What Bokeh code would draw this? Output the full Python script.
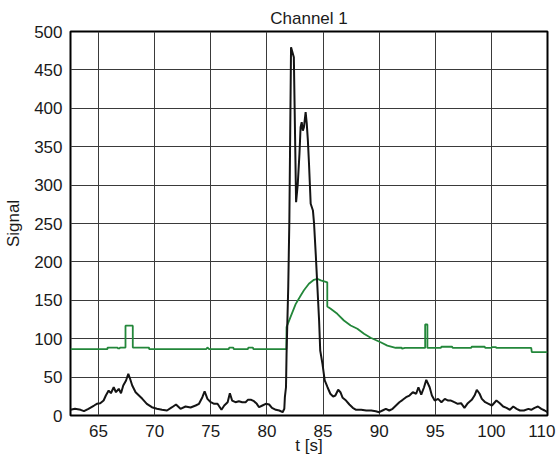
from bokeh.plotting import figure
from bokeh.models import FixedTicker, Range1d
from bokeh.embed import file_html
from bokeh.resources import INLINE

# Black trace (signal)
black_t = [62.5, 62.9, 63.4, 63.7, 64.1, 64.6, 64.85, 65.15, 65.45, 65.65, 65.9, 66.1, 66.35, 66.55, 66.8,
           67.0, 67.2, 67.45, 67.65, 67.8, 68.0, 68.3, 68.6, 68.9, 69.3, 69.75, 70.2, 70.65, 71.1, 71.55,
           71.9, 72.3, 72.75, 73.2, 73.65, 73.95, 74.25, 74.45, 74.7, 75.0, 75.3, 75.6, 75.95, 76.2, 76.5,
           76.7, 76.9, 77.2, 77.5, 77.8, 78.1, 78.3, 78.6, 78.85, 79.1, 79.3, 79.6, 79.9, 80.2, 80.45,
           80.8, 81.1, 81.4, 81.55, 81.6, 81.7, 81.75, 81.9, 82.0, 82.15, 82.4, 82.6, 82.75, 82.9, 83.0,
           83.1, 83.2, 83.3, 83.45, 83.55, 83.65, 83.75, 83.9, 84.1, 84.2, 84.35, 84.5, 84.65, 84.75, 84.95,
           85.15, 85.4, 85.65, 85.9, 86.1, 86.35, 86.55, 86.75, 87.05, 87.35, 87.65, 87.95, 88.4, 88.85, 89.3,
           89.7, 90.0, 90.3, 90.6, 90.9, 91.2, 91.5, 91.8, 92.1, 92.4, 92.7, 93.0, 93.3, 93.5, 93.75,
           94.0, 94.2, 94.5, 94.7, 94.95, 95.25, 95.55, 95.85, 96.15, 96.4, 96.7, 97.0, 97.3, 97.6, 97.9,
           98.25, 98.5, 98.7, 98.95, 99.15, 99.45, 99.75, 100.05, 100.45, 100.75, 101.05, 101.35, 101.65, 101.95, 102.25,
           102.55, 102.9, 103.3, 103.55, 103.85, 104.15, 104.45, 104.75, 105.0]
black_v = [7.4, 8.7, 7.4, 5.6, 8.7, 13, 15.2, 16, 19.5, 26, 32.5, 29, 36.8, 30.3, 34.8,
           29, 39, 45.6, 54.3, 48.2, 39, 30.3, 26, 21.7, 15.2, 10.8, 8.7, 7.4, 6.5, 10.8,
           14.3, 8.7, 11.7, 10.4, 13, 15.2, 23.8, 31.6, 21.7, 17.3, 15.2, 15.2, 7.4, 13, 17.3,
           29, 19.5, 17.3, 18.6, 17.3, 17.3, 20.4, 20.4, 18.6, 15.2, 10.8, 13, 15.2, 14.3, 10,
           7.4, 6.5, 4.3, 8.7, 23.8, 36.8, 80, 167, 254, 479.6, 466.5, 277.7, 301.7, 340.8, 375.4,
           382, 371, 375.4, 395, 380, 358, 327.7, 275.7, 267, 250, 210.5, 167, 123.7, 84.6, 67.3,
           45.6, 36.8, 28.3, 24.7, 26, 33.5, 30.3, 23, 19.5, 14.3, 10, 7.4, 7.4, 6.5, 6.5,
           5.6, 4.3, 6.5, 8.7, 6.5, 8.7, 13, 17.3, 20.4, 23.8, 26, 30.3, 28.3, 36.8, 27.3,
           36.8, 46.5, 36.8, 26, 19.5, 21.7, 17.3, 21.7, 19.5, 19.5, 17.3, 15.2, 16, 10, 16,
           20.4, 26, 33.5, 28.3, 21.7, 17.3, 15.2, 13, 19.5, 16, 11.7, 10, 7.4, 11.7, 8.7,
           6.5, 6.5, 8.7, 7.4, 10, 11.7, 8.7, 6.5, 4.3]

# Green trace (stepped reference signal)
green_t = [62.5, 65.8, 65.8, 66.7, 66.7, 66.9, 66.9, 67.4, 67.4, 68.05, 68.05, 69.5, 69.5,
           74.6, 74.7, 74.85, 76.6, 76.65, 77.0, 77.05, 78.3, 78.35, 78.75, 78.8,
           81.73, 81.75, 82.1, 82.56, 83.0, 83.3, 83.74, 84.19, 84.49, 84.8, 85.32, 85.38, 85.38,
           85.68, 86.27, 86.86, 87.46, 88.06, 88.65, 89.24, 90.13, 90.73, 91.47, 92.0, 92.05, 92.3,
           94.1, 94.1, 94.3, 94.3, 95.5, 95.55, 96.5, 96.55, 98.2, 98.25, 99.4, 99.45,
           100.0, 100.05, 100.4, 100.45, 103.55, 103.6, 105.0]
green_v = [86.5, 86.5, 88.5, 88.5, 87.5, 87.5, 88.5, 88.5, 117, 117, 88.5, 88.5, 86.5,
           86.5, 88.5, 86.5, 86.5, 88.5, 88.5, 86.5, 86.5, 88.5, 88.5, 86.5,
           86.5, 115, 128, 145, 156, 163, 171.5, 176.7, 178, 176, 173.6, 173.6, 142,
           139, 132.4, 123.7, 117.2, 113, 106.4, 101.2, 95.4, 91, 88.2, 88.2, 87, 88,
           88, 118.5, 118.5, 88, 88, 89.5, 89.5, 88, 88, 89.5, 89.5, 88,
           88, 89, 89, 88, 88, 82.5, 82.5]

x_ticks = [65, 70, 75, 80, 85, 90, 95, 100, 105]
x_label_ticks = [65, 70, 75, 80, 85, 90, 95, 100, 104.5]
x_labels = {104.5: "110"}
y_ticks = [0, 50, 100, 150, 200, 250, 300, 350, 400, 450, 500]

FONT = "Liberation Sans"
FS = "17px"

p = figure(width=557, height=459, output_backend="svg", toolbar_location=None,
           x_range=Range1d(62.5, 105), y_range=Range1d(0, 500),
           min_border_left=70, min_border_right=10, min_border_top=31, min_border_bottom=44,
           title="Channel 1")
p.title.align = "center"
p.title.text_font = FONT
p.title.text_font_size = FS
p.title.text_font_style = "normal"
p.title.text_color = "#1a1a1a"
p.title.standoff = 7
p.title.offset = 0

p.outline_line_color = "black"
p.outline_line_width = 2
p.outline_line_alpha = 1

p.xaxis.ticker = FixedTicker(ticks=x_label_ticks)
p.xaxis.major_label_overrides = x_labels
p.yaxis.ticker = FixedTicker(ticks=y_ticks)
p.xgrid.ticker = FixedTicker(ticks=x_ticks)
p.ygrid.ticker = FixedTicker(ticks=y_ticks)

for ax in (p.xaxis, p.yaxis):
    ax.axis_line_color = None
    ax.major_tick_line_color = None
    ax.minor_tick_line_color = None
    ax.major_tick_out = 0
    ax.major_tick_in = 0
    ax.minor_tick_out = 0
    ax.major_label_text_font = FONT
    ax.major_label_text_font_size = FS
    ax.major_label_text_color = "#1a1a1a"
    ax.axis_label_text_font = FONT
    ax.axis_label_text_font_size = FS
    ax.axis_label_text_font_style = "normal"
    ax.axis_label_text_color = "#1a1a1a"

p.xaxis.major_label_standoff = 9
p.xaxis.axis_label = "t [s]"
p.xaxis.axis_label_standoff = -4
p.yaxis.major_label_standoff = 8
p.yaxis.axis_label = "Signal"
p.yaxis.axis_label_standoff = 8

for g in (p.xgrid, p.ygrid):
    g.grid_line_color = "#3a3a3a"
    g.grid_line_width = 1
    g.grid_line_alpha = 1

p.line(green_t, green_v, line_color="#23873a", line_width=1.8)
p.line(black_t, black_v, line_color="#141414", line_width=2)

open("out.html", "w").write(file_html(p, INLINE))
